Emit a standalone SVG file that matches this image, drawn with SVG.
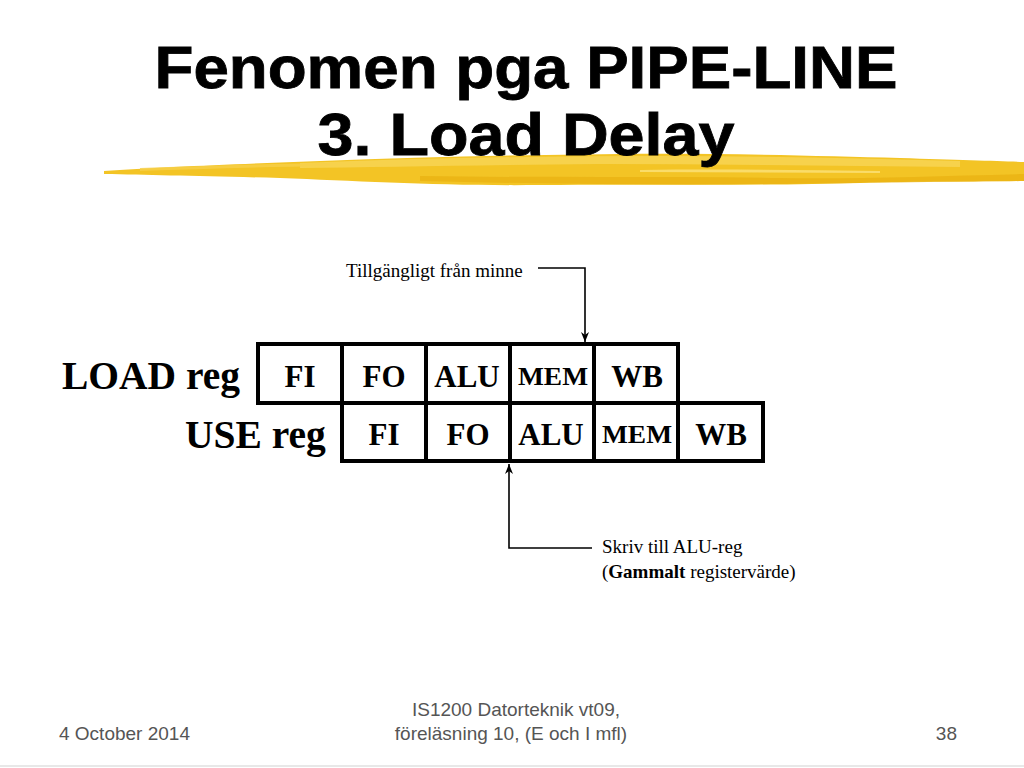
<svg xmlns="http://www.w3.org/2000/svg" width="1024" height="768" viewBox="0 0 1024 768">
<defs>
<style>
.title{font-family:"Liberation Sans",Arial,sans-serif;font-weight:bold;font-size:60px;fill:#000;stroke:#000;stroke-width:0.8;text-anchor:middle}
.lbl{font-family:"Liberation Serif","Times New Roman",serif;font-weight:bold;font-size:39.5px;fill:#000}
.cell{fill:#fff;stroke:#000;stroke-width:4}
.ct{font-family:"Liberation Serif","Times New Roman",serif;font-weight:bold;font-size:31px;fill:#000;text-anchor:middle}
.mem{font-family:"Liberation Serif","Times New Roman",serif;font-weight:bold;font-size:26px;fill:#000;text-anchor:middle}
.note{font-family:"Liberation Serif","Times New Roman",serif;font-size:19px;fill:#000}
.foot{font-family:"Liberation Sans",Arial,sans-serif;font-size:19px;fill:#555}
.conn{fill:none;stroke:#000;stroke-width:1.6}
</style>
<marker id="ah" viewBox="0 0 10 10" refX="10" refY="5" markerWidth="10" markerHeight="10" markerUnits="userSpaceOnUse" orient="auto">
<path d="M0,1 L10,5 L0,9 L3,5 Z" fill="#000"/>
</marker>
</defs>
<rect width="1024" height="768" fill="#fff"/>
<g id="brush">
<path d="M104,171 C160,167 240,164 320,161 C420,157 520,155 620,154 C720,153 820,156 900,158 C960,160 1000,161 1024,162 L1024,181 C980,182 920,181 860,183 C760,186 640,184 540,185 C440,186 360,181 280,178 C200,176 150,175 104,174 Z" fill="#f3c425"/>
<path d="M300,163 C420,158 540,156 660,156 C760,156 860,158 960,161 L960,167 C840,166 720,164 600,164 C480,165 380,167 300,168 Z" fill="#f8d656" opacity="0.8"/>
<path d="M420,176 C540,178 660,176 780,178 C860,179 940,176 1024,174 L1024,181 C940,182 860,183 780,184 C660,185 540,184 420,181 Z" fill="#e8b010" opacity="0.7"/>
<path d="M140,168 C200,166 260,164 330,163 L330,166 C260,167 200,169 140,171 Z" fill="#f6d04a" opacity="0.8"/>
<path d="M640,170 C720,169 800,170 880,171 L880,173 C800,173 720,172 640,172 Z" fill="#fbe27a" opacity="0.8"/>
</g>
<g id="title">
<text class="title" x="526" y="88" textLength="743" lengthAdjust="spacingAndGlyphs">Fenomen pga PIPE-LINE</text>
<text class="title" x="526" y="155" textLength="417" lengthAdjust="spacingAndGlyphs">3. Load Delay</text>
</g>
<g id="labels">
<text class="lbl" x="62" y="389">LOAD reg</text>
<text class="lbl" x="185" y="448">USE reg</text>
</g>
<g id="load-row">
<g id="load-FI"><rect class="cell" x="258" y="344" width="84" height="59"/><text class="ct" x="300" y="387">FI</text></g>
<g id="load-FO"><rect class="cell" x="342" y="344" width="84" height="59"/><text class="ct" x="384" y="387">FO</text></g>
<g id="load-ALU"><rect class="cell" x="426" y="344" width="84" height="59"/><text class="ct" x="467" y="387">ALU</text></g>
<g id="load-MEM"><rect class="cell" x="510" y="344" width="84" height="59"/><text class="mem" x="553" y="385" textLength="70" lengthAdjust="spacingAndGlyphs">MEM</text></g>
<g id="load-WB"><rect class="cell" x="594" y="344" width="84" height="59"/><text class="ct" x="637" y="387">WB</text></g>
</g>
<g id="use-row">
<g id="use-FI"><rect class="cell" x="342" y="403" width="84" height="58"/><text class="ct" x="384" y="445">FI</text></g>
<g id="use-FO"><rect class="cell" x="426" y="403" width="84" height="58"/><text class="ct" x="468" y="445">FO</text></g>
<g id="use-ALU"><rect class="cell" x="510" y="403" width="84" height="58"/><text class="ct" x="551" y="445">ALU</text></g>
<g id="use-MEM"><rect class="cell" x="594" y="403" width="84" height="58"/><text class="mem" x="637" y="443" textLength="70" lengthAdjust="spacingAndGlyphs">MEM</text></g>
<g id="use-WB"><rect class="cell" x="678" y="403" width="85" height="58"/><text class="ct" x="721" y="445">WB</text></g>
</g>
<g id="connectors">
<path class="conn" d="M538,268 H585 V342" marker-end="url(#ah)"/>
<path class="conn" d="M592,548 H509 V464" marker-end="url(#ah)"/>
</g>
<g id="notes">
<text class="note" x="346" y="277">Tillgängligt från minne</text>
<text class="note" x="602" y="553">Skriv till ALU-reg</text>
<text class="note" x="602" y="578">(<tspan font-weight="bold">Gammalt</tspan> registervärde)</text>
</g>
<g id="footer">
<text class="foot" x="59" y="740" font-size="20">4 October 2014</text>
<text class="foot" x="516" y="716" text-anchor="middle">IS1200 Datorteknik vt09,</text>
<text class="foot" x="511" y="740" text-anchor="middle">föreläsning 10, (E och I mfl)</text>
<text class="foot" x="957" y="740" text-anchor="end" font-size="20">38</text>
<line x1="0" y1="766" x2="1024" y2="766" stroke="#e8e8e8" stroke-width="2"/>
</g>
</svg>
